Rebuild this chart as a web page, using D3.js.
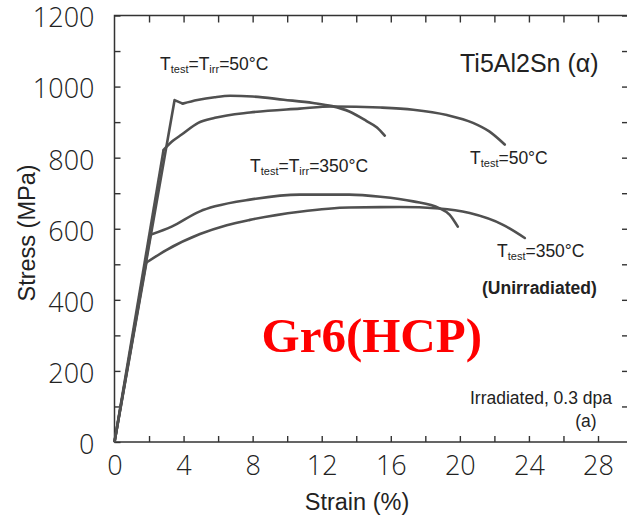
<!DOCTYPE html>
<html>
<head>
<meta charset="utf-8">
<script src="https://cdn.jsdelivr.net/npm/d3@7"></script>
<style>
  body { margin: 0; background: #fff; }
  svg { display: block; }
  .axis path { display: none; }
  .axis line { stroke: #333; stroke-width: 1.4; }
  .axis text { font-family: "Open Sans", "Liberation Sans", sans-serif; font-weight: 300; font-size: 27px; fill: #222; }
  .ann { font-family: "Liberation Sans", Arial, sans-serif; fill: #222; }
</style>
</head>
<body>
<svg width="627" height="519"></svg>
<script>
// strain (%), stress (MPa)
var irr50    = [[0,0],[3.48,962],[3.95,952],[4.8,962],[5.8,970],[6.7,974],[8,972],[9.8,963],[11.5,954],[12.6,945],[13.6,930],[14.6,903],[15.2,885],[15.65,862]];
var unirr50  = [[0,0],[2.84,822],[3.4,848],[3.89,865],[4.85,898],[5.82,912],[7.84,927],[10.73,938],[12.6,944],[15.4,941],[17.3,935],[19.25,920],[20.76,898],[21.7,874],[22.6,837]];
var irr350   = [[0,0],[2.08,583],[3.31,606],[4.95,649],[5.82,663],[7.84,682],[10.73,696],[13.6,696],[15.4,690],[17.3,677],[18.8,658],[19.4,640],[19.88,606]];
var unirr350 = [[0,0],[1.85,505],[3.0,540],[4.95,585],[6.5,610],[7.84,625],[10.73,648],[13.6,660],[16.5,661],[18.8,657],[20.57,644],[22.5,611],[23.76,574]];

// how many leading points are joined with straight segments (elastic part / yield drop)
var curves = [
  {pts: irr50, sharp: 3},
  {pts: unirr50, sharp: 2},
  {pts: irr350, sharp: 2},
  {pts: unirr350, sharp: 2}
];

var xTicks = d3.range(0, 29, 2);
var xLabels = [0, 4, 8, 12, 16, 20, 24, 28];
var yTicks = d3.range(0, 1201, 100);
var yLabels = [0, 200, 400, 600, 800, 1000, 1200];

var svg = d3.select("svg");

var x = d3.scaleLinear().domain([0, 28]).range([114.5, 598]);
var y = d3.scaleLinear().domain([0, 1200]).range([442, 15.5]);
var right = 629;

// frame
svg.append("rect")
  .attr("x", x(0)).attr("y", y(1200))
  .attr("width", right - x(0)).attr("height", y(0) - y(1200))
  .attr("fill", "none").attr("stroke", "#333").attr("stroke-width", 1.5);

var fmtX = function(d) { return xLabels.indexOf(d) >= 0 ? d : ""; };
var fmtY = function(d) { return yLabels.indexOf(d) >= 0 ? d : ""; };

svg.append("g").attr("class", "axis")
  .attr("transform", "translate(0," + y(0) + ")")
  .call(d3.axisBottom(x).tickValues(xTicks).tickFormat(fmtX).tickSizeInner(-6).tickSizeOuter(0).tickPadding(14));

svg.append("g").attr("class", "axis")
  .attr("transform", "translate(0," + y(1200) + ")")
  .call(d3.axisTop(x).tickValues(xTicks.slice(1)).tickFormat("").tickSizeInner(-7).tickSizeOuter(0));

svg.append("g").attr("class", "axis")
  .attr("transform", "translate(" + x(0) + ",0)")
  .call(d3.axisLeft(y).tickValues(yTicks).tickFormat(fmtY).tickSizeInner(-6).tickSizeOuter(0).tickPadding(20))
  .selectAll("text").attr("dy", "0.42em");

svg.append("g").attr("class", "axis")
  .attr("transform", "translate(" + right + ",0)")
  .call(d3.axisRight(y).tickValues(yTicks.slice(1)).tickFormat("").tickSizeInner(-7).tickSizeOuter(0));

// axis titles
svg.append("text").attr("class", "ann")
  .attr("transform", "translate(35,233) rotate(-90)")
  .attr("text-anchor", "middle")
  .style("font-size", "23.5px")
  .text("Stress (MPa)");

svg.append("text").attr("class", "ann")
  .attr("x", 357).attr("y", 510)
  .attr("text-anchor", "middle")
  .style("font-size", "23.5px")
  .text("Strain (%)");

// curves
var straight = d3.line().x(function(d) { return x(d[0]); }).y(function(d) { return y(d[1]); });
var smooth = d3.line().curve(d3.curveMonotoneX).x(function(d) { return x(d[0]); }).y(function(d) { return y(d[1]); });

curves.forEach(function(c) {
  svg.append("path")
    .attr("d", straight(c.pts.slice(0, c.sharp)))
    .attr("fill", "none").attr("stroke", "#505050").attr("stroke-width", 2.6)
    .attr("stroke-linejoin", "round");
  svg.append("path")
    .attr("d", smooth(c.pts.slice(c.sharp - 1)))
    .attr("fill", "none").attr("stroke", "#505050").attr("stroke-width", 2.6)
    .attr("stroke-linejoin", "round").attr("stroke-linecap", "round");
});

// annotations with subscripts
function label(px, py, parts) {
  var t = svg.append("text").attr("class", "ann")
    .attr("x", px).attr("y", py).style("font-size", "17.5px");
  parts.forEach(function(p) {
    var s = t.append("tspan").text(p[0]);
    if (p[1]) s.style("font-size", "11px").attr("dy", 3);
    else if (p[2]) s.attr("dy", -3);
  });
}
label(160, 70, [["T"], ["test", 1], ["=T", 0, 1], ["irr", 1], ["=50°C", 0, 1]]);
label(470, 164, [["T"], ["test", 1], ["=50°C", 0, 1]]);
label(250, 172, [["T"], ["test", 1], ["=T", 0, 1], ["irr", 1], ["=350°C", 0, 1]]);
label(497, 257, [["T"], ["test", 1], ["=350°C", 0, 1]]);

svg.append("text").attr("class", "ann")
  .attr("x", 460).attr("y", 72).style("font-size", "25px")
  .text("Ti5Al2Sn (α)");

svg.append("text").attr("class", "ann")
  .attr("x", 482).attr("y", 294).style("font-size", "17.5px").style("font-weight", "bold")
  .text("(Unirradiated)");

svg.append("text").attr("class", "ann")
  .attr("x", 612).attr("y", 404).attr("text-anchor", "end").style("font-size", "17.5px")
  .text("Irradiated, 0.3 dpa");

svg.append("text").attr("class", "ann")
  .attr("x", 586).attr("y", 427).attr("text-anchor", "middle").style("font-size", "17.5px")
  .text("(a)");

svg.append("text")
  .attr("x", 482).attr("y", 352).attr("text-anchor", "end")
  .style("font-family", "'Liberation Serif', 'Times New Roman', serif")
  .style("font-weight", "bold").style("font-size", "49px").style("fill", "#ff0000")
  .text("Gr6(HCP)");
</script>
</body>
</html>
